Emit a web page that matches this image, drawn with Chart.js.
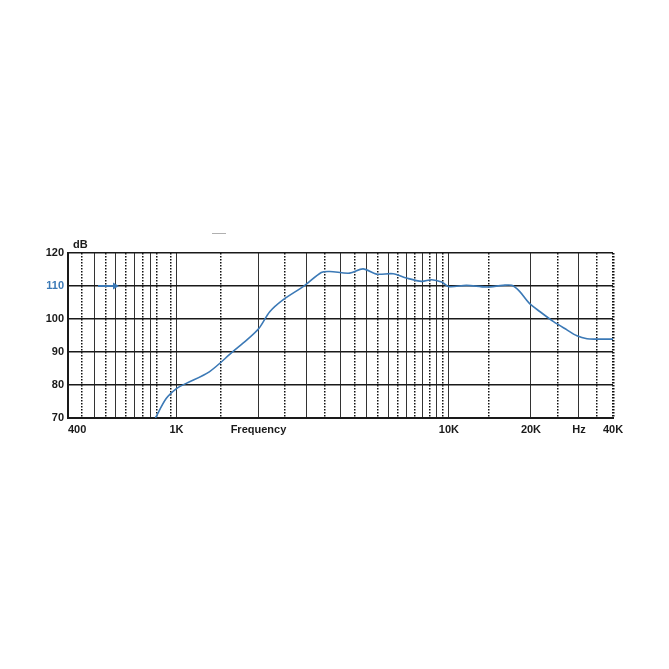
<!DOCTYPE html>
<html>
<head>
<meta charset="utf-8">
<script src="https://cdn.jsdelivr.net/npm/chart.js@4"></script>
<style>
  body { margin: 0; background: #fff; }
</style>
</head>
<body>
<canvas id="respChart" width="669" height="669"></canvas>
<script>
// Frequency response
const freqs = [837, 917, 1003, 1086, 1320, 1610, 1810, 2010, 2200, 2460, 2950, 3400, 3650, 4320, 4840, 5420, 6240, 6990, 7940, 8640, 9400, 10000, 11600, 13700, 15800, 17000, 18200, 19700, 21600, 24200, 27100, 29500, 32100, 34900, 40000];
const levels = [70, 75.9, 79.0, 80.5, 84.0, 90.1, 93.6, 97.2, 102.2, 105.8, 110.1, 114.1, 114.4, 113.9, 115.2, 113.6, 113.7, 112.4, 111.4, 111.9, 111.2, 109.8, 110.2, 109.7, 110.2, 110.2, 108.3, 104.8, 102.2, 99.2, 96.7, 94.9, 94.0, 93.9, 93.9];

// Chart paper: solid and dotted frequency lines
const solidLines = [400, 500, 600, 700, 800, 1000, 2000, 3000, 4000, 5000, 6000, 7000, 8000, 9000, 10000, 20000, 30000, 40000];
const dottedLines = [450, 550, 650, 750, 850, 950, 1450, 2500, 3500, 4500, 5500, 6500, 7500, 8500, 9500, 14000, 25000, 35000, 40000];

// Bottom labels
const xTickValues = [400, 1000, 2000, 10000, 20000, 30000, 40000];
const xTickLabels = ['      400', '1K', 'Frequency', '10K', '20K', 'Hz', '40K'];
const yTicks = [70, 80, 90, 100, 110, 120];

const BLUE = '#3b79b6';
const INK = '#1a1a1a';
const FONT = { family: 'Liberation Sans, Arial, sans-serif', size: 11, weight: 'bold' };

const decorations = {
    id: 'decorations',
    afterDraw(chart) {
        const { ctx, chartArea, scales } = chart;
        ctx.save();
        // dB unit
        ctx.fillStyle = INK;
        ctx.font = 'bold 11px "Liberation Sans", Arial, sans-serif';
        ctx.textBaseline = 'middle';
        ctx.fillText('dB', chartArea.left + 5, chartArea.top - 8);

        // blue arrow on the 110 line
        const y = scales.y.getPixelForValue(110);
        const x0 = chartArea.left + 30;
        const x1 = chartArea.left + 51;
        ctx.strokeStyle = BLUE;
        ctx.fillStyle = BLUE;
        ctx.lineWidth = 2;
        ctx.beginPath();
        ctx.moveTo(x0, y);
        ctx.lineTo(x1 - 4, y);
        ctx.stroke();
        ctx.beginPath();
        ctx.moveTo(x1, y);
        ctx.lineTo(x1 - 6, y - 3.5);
        ctx.lineTo(x1 - 6, y + 3.5);
        ctx.closePath();
        ctx.fill();

        // small mark above the frame
        ctx.strokeStyle = '#b0b0b0';
        ctx.lineWidth = 1;
        ctx.beginPath();
        ctx.moveTo(212, 233.5);
        ctx.lineTo(226, 233.5);
        ctx.stroke();
        ctx.restore();
    }
};

const ctx = document.getElementById('respChart').getContext('2d');
new Chart(ctx, {
    type: 'line',
    data: {
        datasets: [{
            data: freqs.map((f, i) => ({ x: f, y: levels[i] })),
            borderColor: BLUE,
            borderWidth: 1.6,
            pointRadius: 0,
            tension: 0.3,
            xAxisID: 'x',
            yAxisID: 'y'
        }]
    },
    options: {
        responsive: false,
        animation: false,
        layout: { padding: { top: 253, left: 0, right: 56, bottom: 226 } },
        plugins: {
            legend: { display: false },
            tooltip: { enabled: false }
        },
        scales: {
            x: {
                type: 'logarithmic',
                position: 'bottom',
                min: 400,
                max: 40000,
                weight: 1,
                afterBuildTicks: scale => { scale.ticks = solidLines.map(v => ({ value: v })); },
                afterFit: scale => { scale.height = 25; },
                grid: {
                    drawTicks: false,
                    color: c => (c.tick && c.tick.value === 40000) ? 'rgba(0,0,0,0)' : '#333',
                    lineWidth: c => (c.tick && c.tick.value === 400) ? 2 : 1
                },
                border: { display: true, color: INK, width: 2 },
                ticks: {
                    autoSkip: false,
                    maxRotation: 0,
                    padding: 5,
                    color: INK,
                    font: FONT,
                    callback: value => {
                        const i = xTickValues.indexOf(value);
                        return i >= 0 ? xTickLabels[i] : '';
                    }
                }
            },
            x2: {
                type: 'logarithmic',
                position: 'bottom',
                min: 400,
                max: 40000,
                weight: 2,
                afterBuildTicks: scale => { scale.ticks = dottedLines.map(v => ({ value: v })); },
                afterFit: scale => { scale.height = 0; },
                grid: {
                    drawTicks: false,
                    color: '#111',
                    lineWidth: c => (c.tick && c.tick.value === 40000) ? 2.5 : 1.5
                },
                border: { display: false, dash: [1.5, 1.5] },
                ticks: { display: false }
            },
            y: {
                min: 70,
                max: 120,
                afterBuildTicks: scale => { scale.ticks = yTicks.map(v => ({ value: v })); },
                afterFit: scale => { scale.width = 68; },
                grid: { drawTicks: false, color: INK, lineWidth: 1.6 },
                border: { display: true, color: INK, width: 2 },
                ticks: {
                    padding: 4,
                    font: FONT,
                    color: c => c.tick.value === 110 ? BLUE : INK
                }
            }
        }
    },
    plugins: [decorations]
});
</script>
</body>
</html>
